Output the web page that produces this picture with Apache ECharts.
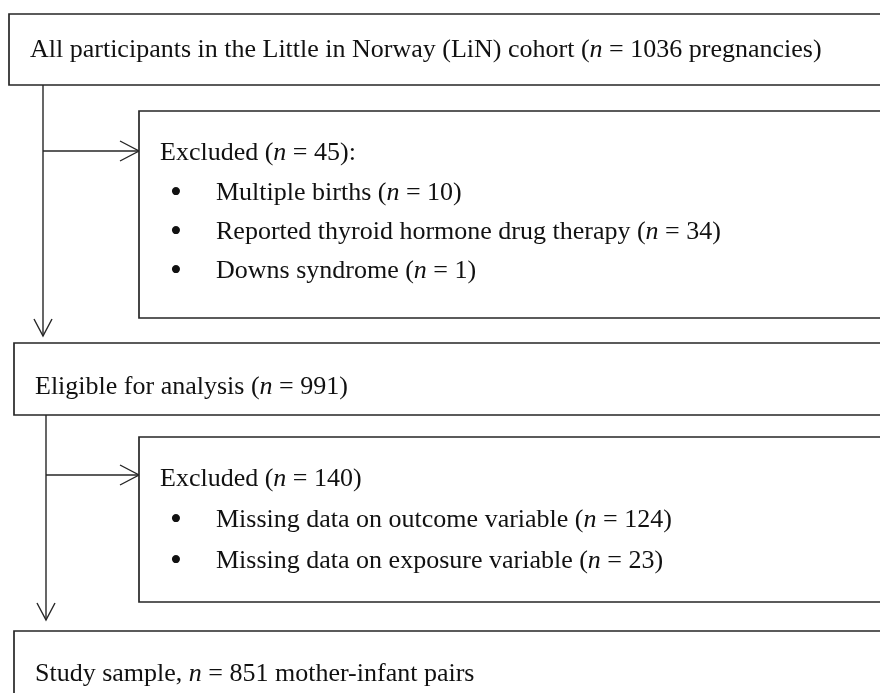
<!DOCTYPE html>
<html>
<head>
<meta charset="utf-8">
<script src="https://cdn.jsdelivr.net/npm/echarts@6/dist/echarts.min.js"></script>
<style>
  html, body { margin: 0; padding: 0; background: #fff; }
  #flowChart { width: 880px; height: 693px; }
</style>
</head>
<body>
<div id="flowChart"></div>
<script>
// 流程图数据
const cohortTotal = 1036;
const exclusionTotal1 = 45;
const exclusionItems1 = ['Multiple births', 'Reported thyroid hormone drug therapy', 'Downs syndrome'];
const exclusionCounts1 = [10, 34, 1];
const eligibleTotal = 991;
const exclusionTotal2 = 140;
const exclusionItems2 = ['Missing data on outcome variable', 'Missing data on exposure variable'];
const exclusionCounts2 = [124, 23];
const studyTotal = 851;

const FONT = '"Liberation Serif", "DejaVu Serif", serif';
const FONT_SIZE = 26;
const LINE = '#262626';

const rich = {
  i: { fontStyle: 'italic', fontFamily: FONT, fontSize: FONT_SIZE, fill: '#111' }
};

const nText = (n) => '{i|n} = ' + n;

const label = (x, y, text, size) => ({
  type: 'text',
  x: x,
  y: y,
  style: {
    text: text,
    rich: rich,
    fontFamily: FONT,
    fontSize: size || FONT_SIZE,
    fill: '#111',
    verticalAlign: 'middle'
  }
});

const box = (x, y, w, h) => ({
  type: 'rect',
  shape: { x: x, y: y, width: w, height: h },
  style: { fill: '#fff', stroke: LINE, lineWidth: 1.7 }
});

const line = (pts) => ({
  type: 'polyline',
  shape: { points: pts },
  style: { stroke: LINE, lineWidth: 1.4, fill: null }
});

const arrowRight = (x0, x1, y) => [
  line([[x0, y], [x1, y]]),
  line([[x1 - 19, y - 10], [x1, y], [x1 - 19, y + 10]])
];

const arrowDown = (x, y0, y1) => [
  line([[x, y0], [x, y1]]),
  line([[x - 9, y1 - 17], [x, y1], [x + 9, y1 - 17]])
];

const bulletList = (items, counts, x, y0, step) => {
  const out = [];
  items.forEach((item, i) => {
    const y = y0 + i * step;
    out.push(label(x, y + 1, '•', 34));
    out.push(label(x + 46, y, item + ' (' + nText(counts[i]) + ')'));
  });
  return out;
};

const elements = [].concat(
  [box(9, 14, 900, 71)],
  [label(30, 50, 'All participants in the Little in Norway (LiN) cohort (' + nText(cohortTotal) + ' pregnancies)')],
  arrowDown(43, 85, 336),
  arrowRight(43, 139, 151),
  [box(139, 111, 800, 207)],
  [label(160, 153, 'Excluded (' + nText(exclusionTotal1) + '):')],
  bulletList(exclusionItems1, exclusionCounts1, 170, 193, 39),
  [box(14, 343, 900, 72)],
  [label(35, 387, 'Eligible for analysis (' + nText(eligibleTotal) + ')')],
  arrowDown(46, 415, 620),
  arrowRight(46, 139, 475),
  [box(139, 437, 800, 165)],
  [label(160, 479, 'Excluded (' + nText(exclusionTotal2) + ')')],
  bulletList(exclusionItems2, exclusionCounts2, 170, 520, 41),
  [box(14, 631, 900, 100)],
  [label(35, 674, 'Study sample, ' + nText(studyTotal) + ' mother-infant pairs')]
);

const chart = echarts.init(document.getElementById('flowChart'), null, { renderer: 'canvas' });
chart.setOption({
  animation: false,
  backgroundColor: '#fff',
  graphic: { elements: elements }
});
</script>
</body>
</html>
